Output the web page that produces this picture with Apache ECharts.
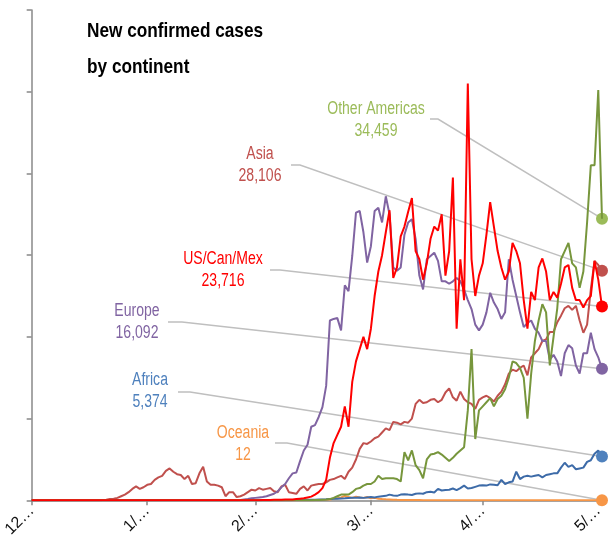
<!DOCTYPE html>
<html><head><meta charset="utf-8">
<script src="https://cdn.jsdelivr.net/npm/echarts@6/dist/echarts.min.js"></script>
<style>html,body{margin:0;padding:0;background:#fff}#c{width:610px;height:540px}</style>
</head><body><div id="c"></div>
<script>
// ---- data (daily new confirmed cases, 12/31/2019 .. 6/1/2020) ----
const tickDates = ['12/31/2019','1/31/2020','2/29/2020','3/31/2020','4/30/2020','5/31/2020'];
const titleLines = ['New confirmed cases', 'by continent'];

const asia = [
0,0,0,0,0,0,0,0,0,0,
0,0,0,0,0,0,0,0,0,50,
80,150,200,300,500,700,1000,1400,1700,1400,
1600,1900,2000,2500,2800,3000,3600,3900,3500,3200,
3100,2600,3000,2000,2100,3300,4100,2300,1900,1900,
1800,1600,500,1000,1000,400,500,700,1000,1300,
1200,1500,1300,1400,1500,1100,1000,1700,1900,1000,
900,800,1400,1700,1200,1800,1900,2000,2000,2200,
2500,2600,2800,3000,2600,3500,4000,5000,6300,7000,
6900,7200,7600,7800,8300,8800,8600,9600,9500,9300,
9600,9500,10000,11800,12300,11900,12000,12300,12400,12000,
12300,13200,13700,12600,12200,13300,12400,12000,11800,11200,
12300,12600,12800,12500,12100,12800,13300,14200,15500,16000,
15800,16200,16500,15300,17500,18000,18500,19500,19700,20600,
20600,21800,22600,23500,23800,23300,23800,22000,20500,21500,
25800,29300,28800,28106];

const europe = [
0,0,0,0,0,0,0,0,0,0,
0,0,0,0,0,0,0,0,0,0,
0,0,0,0,0,0,0,0,0,0,
0,0,0,0,0,0,0,0,0,0,
0,0,0,0,0,0,0,0,0,0,
0,0,0,0,0,0,50,100,150,250,
300,350,400,500,650,800,1100,1600,2000,2700,
3300,3400,4800,6100,6800,9000,9200,10200,11400,14000,
22000,22200,22300,20800,26300,25600,29900,35200,35400,32800,
29100,31100,35400,35800,34000,37200,35000,28500,28100,28500,
32500,34000,34400,32000,27500,25800,29500,29900,30300,29300,
26800,26800,26500,26800,27200,26800,25800,24500,23400,21500,
20800,21500,23000,25400,24200,23400,22200,23000,29500,27000,
25000,23000,21200,21700,22000,21000,20500,19500,19500,17200,
17800,17000,15200,18000,19000,18600,16500,15500,18000,18000,
20500,18500,17500,16092];

const usCanMex = [
0,0,0,0,0,0,0,0,0,0,
0,0,0,0,0,0,0,0,0,0,
0,0,0,0,0,0,0,0,0,0,
0,0,0,0,0,0,0,0,0,0,
0,0,0,0,0,0,0,0,0,0,
0,0,0,0,0,0,0,0,0,0,
10,20,30,40,50,60,70,80,100,100,
100,150,200,250,350,450,700,1000,1500,2500,
5200,7000,8000,9000,11500,9000,14500,17000,18500,20000,
18500,21000,25000,28000,30000,32800,35500,27200,28500,32300,
33500,35300,37000,30500,29500,27000,29000,32000,33500,33000,
35000,27500,30500,39500,21000,29500,24500,51000,29500,25000,
27500,29000,32500,36500,33500,30500,28500,27000,28000,31500,
30500,29000,24500,21000,25500,24500,28500,29600,28000,24500,
25500,24800,26500,28500,28800,26000,24500,24500,23600,24500,
25000,29300,27000,23716];

const otherAmericas = [
0,0,0,0,0,0,0,0,0,0,
0,0,0,0,0,0,0,0,0,0,
0,0,0,0,0,0,0,0,0,0,
0,0,0,0,0,0,0,0,0,0,
0,0,0,0,0,0,0,0,0,0,
0,0,0,0,0,0,0,0,0,0,
0,0,0,0,0,0,0,0,0,0,
0,0,0,0,0,0,30,50,80,100,
150,300,500,700,700,700,1000,1400,1500,1800,
2000,2000,2300,3000,2600,2700,2700,2700,2600,2300,
5900,4900,6100,4300,3700,2700,5000,5600,5700,5900,
5600,5200,4800,5200,5700,6100,6500,11000,18500,7500,
11000,11500,12000,12500,11500,12400,12800,13600,15000,17000,
16800,16200,15000,10000,15500,19500,22000,24000,23000,16500,
20000,23500,29500,30500,31500,29000,28500,26000,28000,34000,
41000,41000,50200,34459];

const africa = [
0,0,0,0,0,0,0,0,0,0,
0,0,0,0,0,0,0,0,0,0,
0,0,0,0,0,0,0,0,0,0,
0,0,0,0,0,0,0,0,0,0,
0,0,0,0,0,0,0,0,0,0,
0,0,0,0,0,0,0,0,0,0,
1,1,2,3,5,8,10,12,15,20,
25,30,40,50,60,70,80,90,100,120,
150,180,200,230,250,280,300,320,350,300,
350,400,350,450,500,550,700,600,550,700,
750,700,650,800,850,800,1000,1050,950,1400,
1200,1250,1300,1450,1250,1500,1800,1450,1500,1650,
1800,1850,1800,1950,1900,1850,2500,2000,2200,2300,
3500,2600,2900,3000,2900,3000,3100,2800,3100,3200,
3300,3300,4000,4600,4100,4300,3800,3900,4000,4700,
4900,5700,6100,5374];

const oceania = [
0,0,0,0,0,0,0,0,0,0,
0,0,0,0,0,0,0,0,0,0,
0,0,0,0,0,0,0,0,0,0,
0,0,0,0,0,0,0,0,0,0,
0,0,0,0,0,0,0,0,0,0,
0,0,0,0,0,0,0,0,0,0,
0,0,0,0,0,0,0,0,0,0,
0,0,0,0,0,0,10,20,40,60,
100,200,250,350,550,400,300,450,350,300,
400,250,300,200,150,120,100,80,60,50,
40,35,30,30,25,20,20,18,15,15,
15,12,12,10,10,10,8,8,8,6,
6,5,5,5,4,4,3,3,3,2,
2,2,3,2,2,3,4,5,3,2,
2,3,2,4,5,3,2,10,8,12,
15,10,9,12];

const seriesNames = ['Oceania','Africa','Asia','Europe','Other Americas','US/Can/Mex'];
const seriesData  = [oceania, africa, asia, europe, otherAmericas, usCanMex];
const lineColors  = ['#F79646','#3D6BA8','#C0504D','#8064A2','#77963C','#FF0000'];
const dotColors   = ['#F79646','#4F81BD','#C0504D','#8064A2','#9BBB59','#FF0000'];

// ---- build category axis ----
const dates = [];
for (let i = 0; i < asia.length; i++) {
  const d = new Date(2019, 11, 31 + i);
  dates.push((d.getMonth() + 1) + '/' + d.getDate() + '/' + d.getFullYear());
}
const showTick = (idx, val) => tickDates.indexOf(val) >= 0;
const last = dates.length - 1;
const FONT = "'Liberation Sans',Arial,sans-serif";

const chart = echarts.init(document.getElementById('c'), null, {renderer: 'canvas'});
const option = {
  animation: false,
  backgroundColor: '#ffffff',
  grid: {left: 25, right: 8, top: 10, bottom: 38, containLabel: false},
  xAxis: {
    type: 'category', data: dates, boundaryGap: false,
    axisLine: {lineStyle: {color: '#888', width: 1.5}},
    axisTick: {show: true, interval: showTick, length: 5, lineStyle: {color: '#888', width: 1.5}},
    axisLabel: {interval: showTick, rotate: 45, formatter: v => v.slice(0, 2) + '\u2026',
      fontFamily: FONT, fontSize: 16, color: '#111', margin: 8},
    splitLine: {show: false}
  },
  yAxis: {
    type: 'value', min: 0, max: 60000, interval: 10000,
    axisLine: {show: true, lineStyle: {color: '#888', width: 1.5}},
    axisTick: {show: true, length: 5, lineStyle: {color: '#888', width: 1.5}},
    axisLabel: {show: false},
    splitLine: {show: false}
  },
  series: seriesNames.map((name, k) => ({
    name, type: 'line', data: seriesData[k], symbol: 'none',
    lineStyle: {color: lineColors[k], width: 2}, itemStyle: {color: lineColors[k]},
    z: 2 + k,
    markPoint: {
      symbol: 'circle', symbolSize: 12, silent: true,
      itemStyle: {color: dotColors[k]}, label: {show: false},
      data: [{coord: [last, seriesData[k][last]]}]
    }
  }))
};
chart.setOption(option);

// ---- annotations: title, labels (layout) + leader line to the last data point ----
const labels = {
  'Other Americas': {x: 376, y: 109, color: '#9BBB59', start: [430, 119], elbow: [438, 119]},
  'Asia':           {x: 260, y: 154, color: '#C0504D', start: [291, 165], elbow: [300, 165]},
  'US/Can/Mex':     {x: 223, y: 259, color: '#FF0000', start: [270, 270], elbow: [280, 270]},
  'Europe':         {x: 137, y: 311, color: '#8064A2', start: [168, 322], elbow: [182, 322]},
  'Africa':         {x: 150, y: 380, color: '#4F81BD', start: [178, 392], elbow: [190, 392]},
  'Oceania':        {x: 243, y: 433, color: '#F79646', start: [275, 443], elbow: [287, 443]}
};
const graphics = [];
titleLines.forEach((t, i) => {
  graphics.push({type: 'text', z: 30, silent: true, x: 87, y: 31 + i * 36, scaleX: 0.82,
    style: {text: t, fill: '#000', font: 'bold 21px ' + FONT, textAlign: 'left', textVerticalAlign: 'middle'}});
});
seriesNames.forEach((name, k) => {
  const L = labels[name];
  const v = seriesData[k][last];
  const p = chart.convertToPixel({xAxisIndex: 0, yAxisIndex: 0}, [last, v]);
  graphics.push({type: 'polyline', z: 1, silent: true,
    shape: {points: [L.start, L.elbow, p]},
    style: {stroke: '#BFBFBF', lineWidth: 1.5, fill: null}});
  graphics.push({type: 'text', z: 20, silent: true, x: L.x, y: L.y, scaleX: 0.78,
    style: {text: name, fill: L.color, font: '18px ' + FONT, textAlign: 'center', textVerticalAlign: 'middle'}});
  graphics.push({type: 'text', z: 20, silent: true, x: L.x, y: L.y + 22, scaleX: 0.78,
    style: {text: v.toLocaleString('en-US'), fill: L.color, font: '18px ' + FONT, textAlign: 'center', textVerticalAlign: 'middle'}});
});
chart.setOption({graphic: graphics});
</script></body></html>
